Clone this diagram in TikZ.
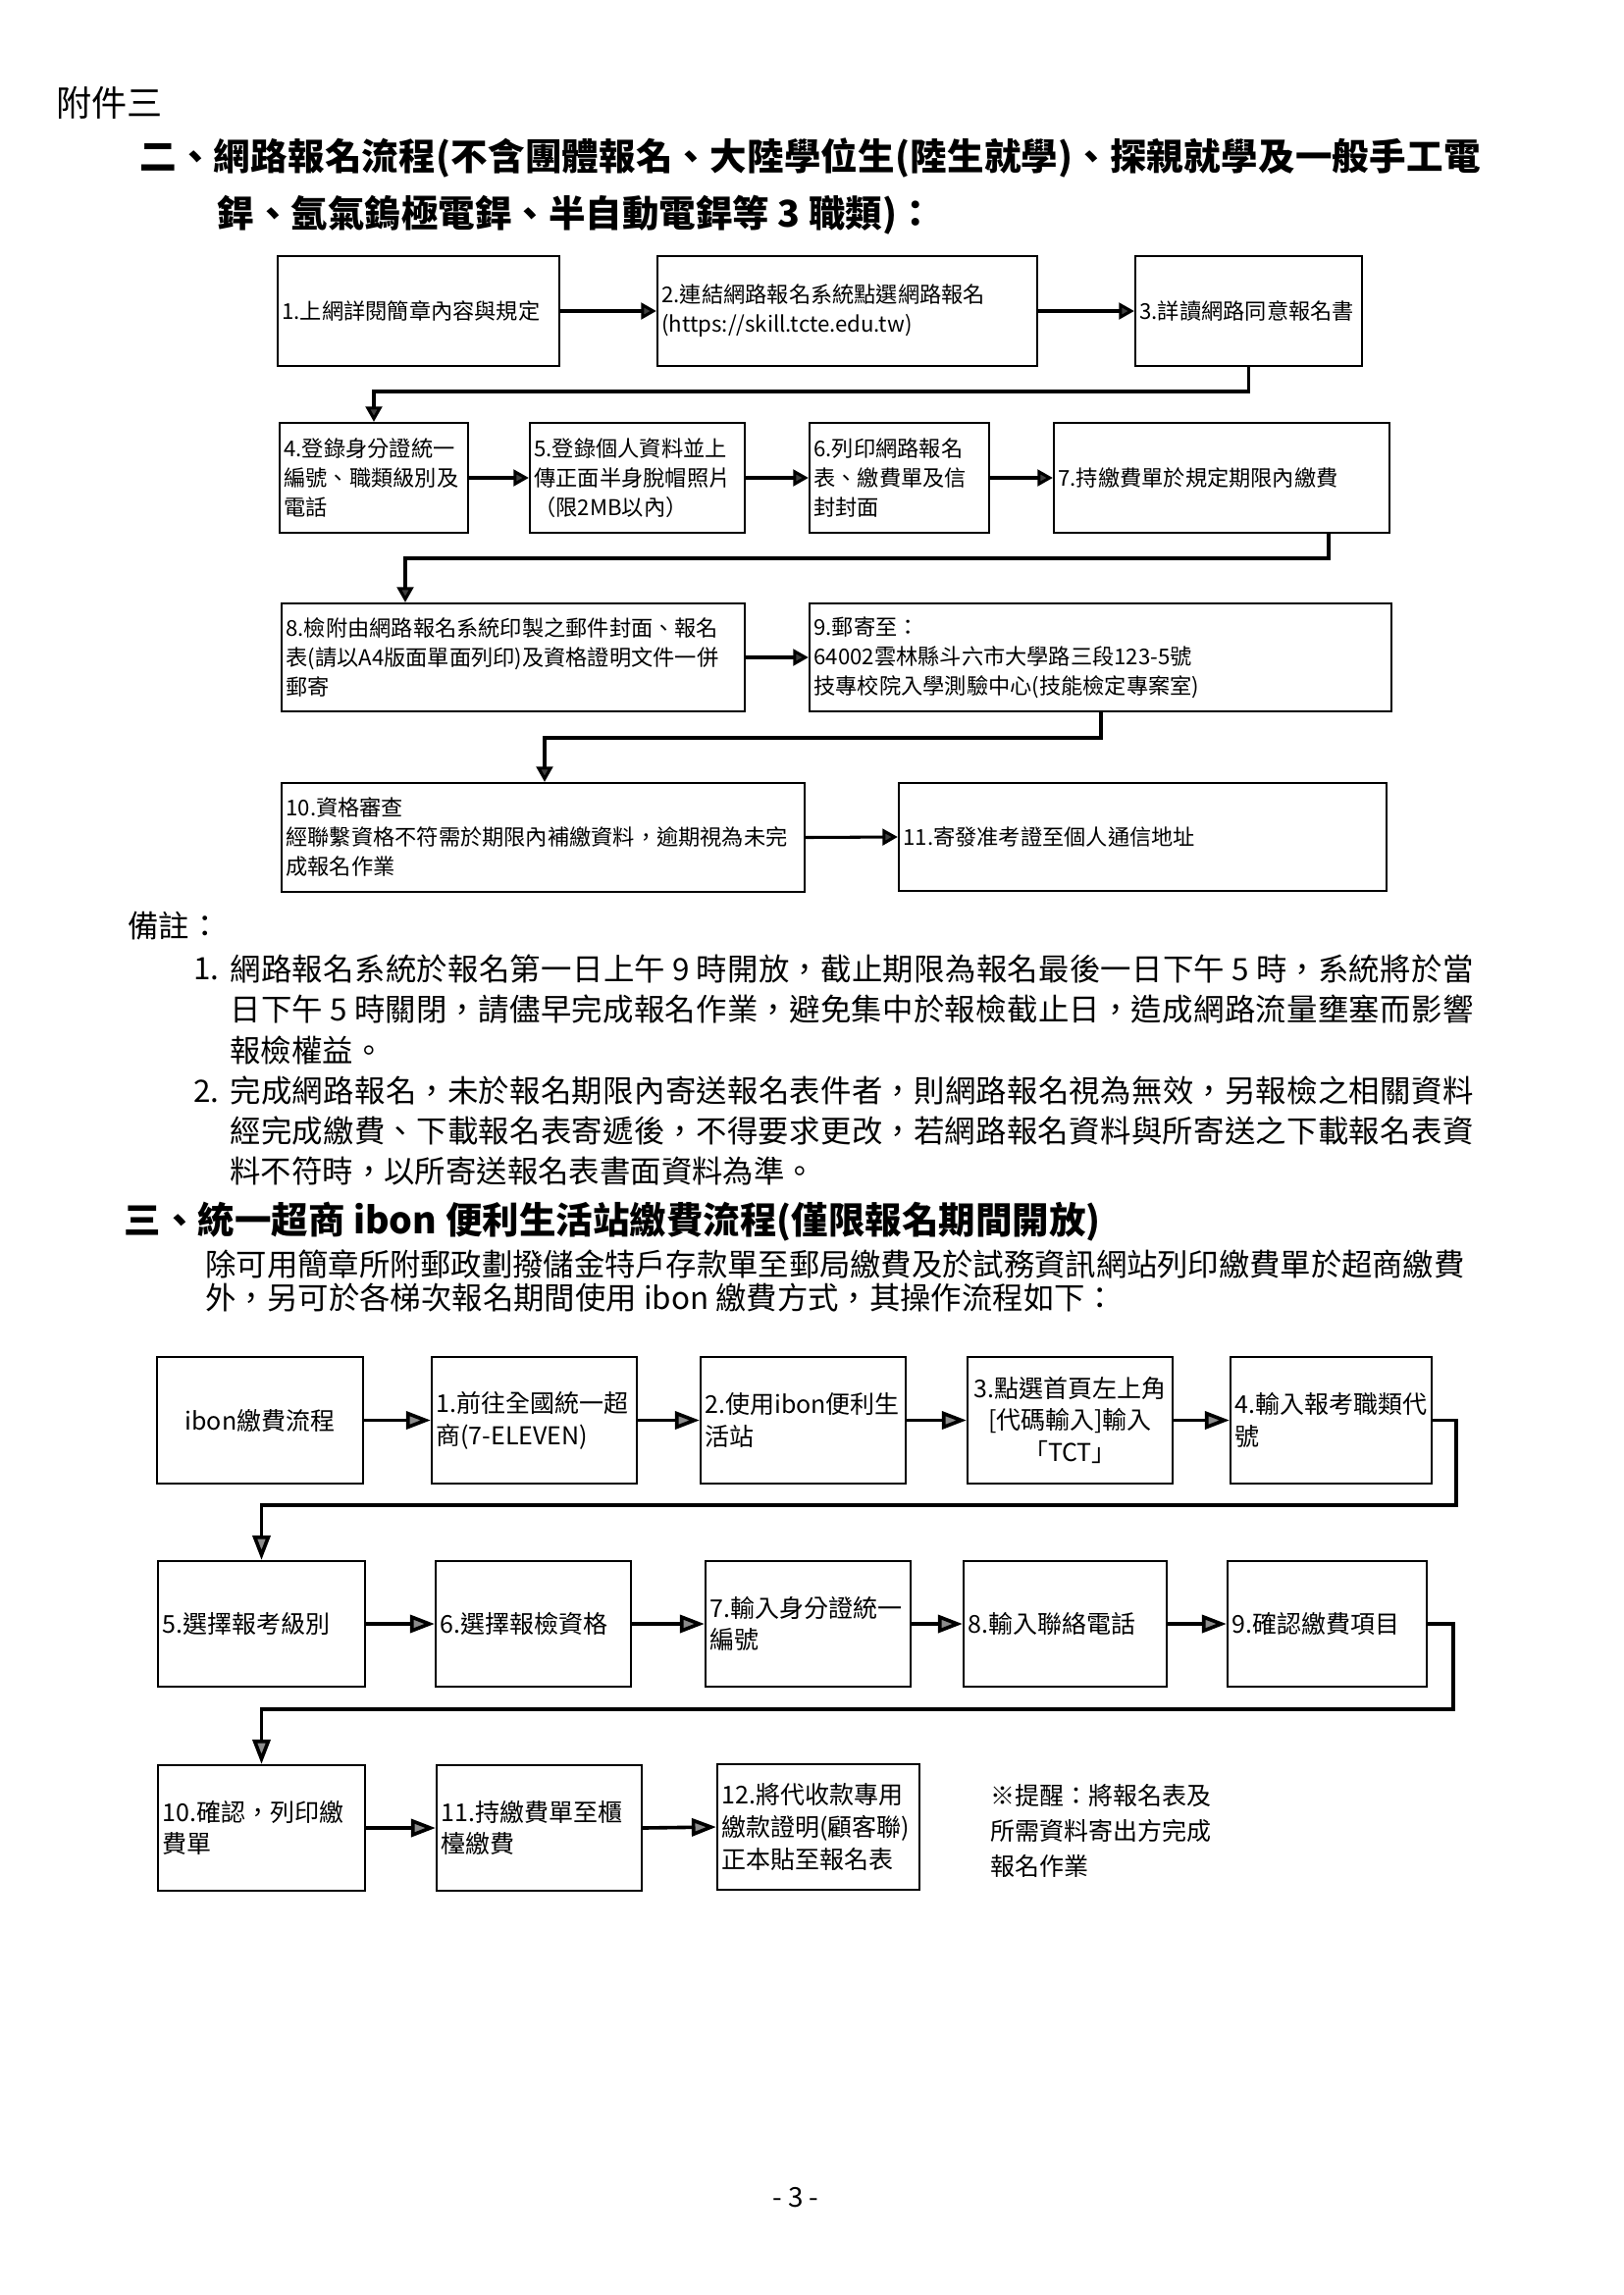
\documentclass[tikz,border=0pt]{standalone}
\usepackage{fontspec}
\setmainfont{Noto Sans CJK TC}
\usetikzlibrary{arrows.meta}
\newcommand\fa{\fontsize{8pt}{10.8pt}\selectfont}
\newcommand\fb{\fontsize{9pt}{11.8pt}\selectfont}
\newcommand\ftip{\fontsize{9pt}{12.8pt}\selectfont}
\newcommand\fbody{\fontsize{11.3pt}{15pt}\selectfont}
\newcommand\fhead{\fontsize{13pt}{15pt}\selectfont}
\newcommand\ftitle{\fontsize{13.5pt}{16pt}\selectfont\bfseries}
\newcommand\jl[2]{\parbox{#1}{\XeTeXlinebreaklocale "zh"\XeTeXlinebreakskip=0pt plus 3pt minus 1pt\relax\parfillskip=0pt\relax\leavevmode#2}}
\newcommand\flowbox[7]{%
 \pgfmathsetlengthmacro\mybw{(#4-#2)*0.36pt}%
 \pgfmathsetlengthmacro\mybh{(#5-#3)*0.36pt}%
 \pgfmathsetlengthmacro\mybt{(#4-#2)*0.36pt-3.2pt}%
 \node[#6, minimum width=\mybw, minimum height=\mybh, text width=\mybt] (#1) at ({(#2+#4)/2},{(#3+#5)/2}) {#7};}
\tikzset{
 boxa/.style={draw, line width=0.8pt, inner xsep=1.6pt, inner ysep=0pt, align=left, font=\fa},
 boxb/.style={boxa, font=\fb},
 boxc/.style={boxb, align=center},
 c2/.style={line width=1.1pt, -{Triangle[length=5.6pt,width=6pt,fill=black!75]}},
 c3/.style={line width=1.3pt, -{Triangle[length=9pt,width=6.5pt,fill=black!45]}},
 txt/.style={anchor=west, inner sep=0pt, font=\fbody},
}
\begin{document}
\begin{tikzpicture}[x=0.36pt,y=-0.36pt]
\fill[white] (0,0) rectangle (1654,2339);
\useasboundingbox (0,0) rectangle (1654,2339);

% headings
\node[anchor=west, inner sep=0pt, font=\fhead] (att) at (57,105) {附件三};
\node[anchor=west, inner sep=0pt, font=\ftitle] (t1) at (142,161) {\jl{491.8pt}{二、網路報名流程(不含團體報名、大陸學位生(陸生就學)、探親就學及一般手工電}};
\node[anchor=west, inner sep=0pt, font=\ftitle] (t2) at (221,219) {銲、氬氣鎢極電銲、半自動電銲等 3 職類)：};

% section 2 flow
\flowbox{b1}{283}{261}{570}{373}{boxa}{1.上網詳閱簡章內容與規定}
\flowbox{b2}{670}{261}{1057}{373}{boxa}{2.連結網路報名系統點選網路報名\\(https://skill.tcte.edu.tw)}
\flowbox{b3}{1157}{261}{1388}{373}{boxa}{3.詳讀網路同意報名書}
\flowbox{b4}{285}{431}{477}{543}{boxa}{4.登錄身分證統一\\編號、職類級別及\\電話}
\flowbox{b5}{540}{431}{759}{543}{boxa}{5.登錄個人資料並上\\傳正面半身脫帽照片\\（限2MB以內）}
\flowbox{b6}{825}{431}{1008}{543}{boxa}{6.列印網路報名\\表、繳費單及信\\封封面}
\flowbox{b7}{1074}{431}{1416}{543}{boxa}{7.持繳費單於規定期限內繳費}
\flowbox{b8}{287}{615}{759}{725}{boxa}{8.檢附由網路報名系統印製之郵件封面、報名\\表(請以A4版面單面列印)及資格證明文件一併\\郵寄}
\flowbox{b9}{825}{615}{1418}{725}{boxa}{9.郵寄至：\\64002雲林縣斗六市大學路三段123-5號\\技專校院入學測驗中心(技能檢定專案室)}
\flowbox{b10}{287}{798}{820}{909}{boxa}{10.資格審查\\經聯繫資格不符需於期限內補繳資料，逾期視為未完\\成報名作業}
\flowbox{b11}{916}{798}{1413}{908}{boxa}{11.寄發准考證至個人通信地址}

\draw[c2] (b1.east) -- (b2.west);
\draw[c2] (b2.east) -- (b3.west);
\coordinate (j1) at (0,399);
\draw[c2] (b3.south) -- (b3.south |- j1) -- (b4.north |- j1) -- (b4.north);
\draw[c2] (b4.east) -- (b5.west);
\draw[c2] (b5.east) -- (b6.west);
\draw[c2] (b6.east) -- (b7.west);
\coordinate (j2a) at (1354,569);
\coordinate (j2b) at (413,569);
\draw[c2] (j2a |- b7.south) -- (j2a) -- (j2b) -- (j2b |- b8.north);
\draw[c2] (b8.east) -- (b9.west);
\coordinate (j3a) at (1122,752);
\coordinate (j3b) at (555,752);
\draw[c2] (j3a |- b9.south) -- (j3a) -- (j3b) -- (j3b |- b10.north);
\draw[c2] (b10.east) -- (b11.west);

% notes
\node[txt] (bz) at (130,944) {備註：};
\node[txt] (n1a) at (197,987) {1.};
\node[txt] (n1l1) at (234,987) {\jl{456.1pt}{網路報名系統於報名第一日上午 9 時開放，截止期限為報名最後一日下午 5 時，系統將於當}};
\node[txt] (n1l2) at (234,1029) {\jl{456.1pt}{日下午 5 時關閉，請儘早完成報名作業，避免集中於報檢截止日，造成網路流量壅塞而影響}};
\node[txt] (n1l3) at (234,1070) {報檢權益。};
\node[txt] (n2a) at (197,1112) {2.};
\node[txt] (n2l1) at (234,1112) {\jl{456.1pt}{完成網路報名，未於報名期限內寄送報名表件者，則網路報名視為無效，另報檢之相關資料}};
\node[txt] (n2l2) at (234,1153) {\jl{456.1pt}{經完成繳費、下載報名表寄遞後，不得要求更改，若網路報名資料與所寄送之下載報名表資}};
\node[txt] (n2l3) at (234,1194) {料不符時，以所寄送報名表書面資料為準。};

% section 3
\node[anchor=west, inner sep=0pt, font=\ftitle] (t3) at (126,1245) {三、統一超商 ibon 便利生活站繳費流程(僅限報名期間開放)};
\node[txt] (p1) at (209,1288) {\jl{461.9pt}{除可用簡章所附郵政劃撥儲金特戶存款單至郵局繳費及於試務資訊網站列印繳費單於超商繳費}};
\node[txt] (p2) at (209,1323) {外，另可於各梯次報名期間使用 ibon 繳費方式，其操作流程如下：};

\flowbox{r0}{160}{1383}{370}{1512}{boxc}{ibon繳費流程}
\flowbox{r1}{440}{1383}{649}{1512}{boxb}{1.前往全國統一超\\商(7-ELEVEN)}
\flowbox{r2}{714}{1383}{923}{1512}{boxb}{2.使用ibon便利生\\活站}
\flowbox{r3}{986}{1383}{1195}{1512}{boxc}{3.點選首頁左上角\\{[}代碼輸入{]}輸入\\「TCT」}
\flowbox{r4}{1254}{1383}{1459}{1512}{boxb}{4.輸入報考職類代\\號}
\flowbox{r5}{161}{1591}{372}{1719}{boxb}{5.選擇報考級別}
\flowbox{r6}{444}{1591}{643}{1719}{boxb}{6.選擇報檢資格}
\flowbox{r7}{719}{1591}{928}{1719}{boxb}{7.輸入身分證統一\\編號}
\flowbox{r8}{982}{1591}{1189}{1719}{boxb}{8.輸入聯絡電話}
\flowbox{r9}{1251}{1591}{1454}{1719}{boxb}{9.確認繳費項目}
\flowbox{r10}{161}{1799}{372}{1927}{boxb}{10.確認，列印繳\\費單}
\flowbox{r11}{445}{1799}{654}{1927}{boxb}{11.持繳費單至櫃\\檯繳費}
\flowbox{r12}{731}{1798}{937}{1926}{boxb}{12.將代收款專用\\繳款證明(顧客聯)\\正本貼至報名表}

\draw[c3] (r0.east) -- (r1.west);
\draw[c3] (r1.east) -- (r2.west);
\draw[c3] (r2.east) -- (r3.west);
\draw[c3] (r3.east) -- (r4.west);
\coordinate (k1) at (1484,1534);
\draw[c3] (r4.east) -| (k1) -| (r5.north);
\draw[c3] (r5.east) -- (r6.west);
\draw[c3] (r6.east) -- (r7.west);
\draw[c3] (r7.east) -- (r8.west);
\draw[c3] (r8.east) -- (r9.west);
\coordinate (k2) at (1481,1742);
\draw[c3] (r9.east) -| (k2) -| (r10.north);
\draw[c3] (r10.east) -- (r11.west);
\draw[c3] (r11.east) -- (r12.west);

\node[anchor=west, inner sep=0pt, align=left, font=\ftip] (tip) at (1009,1866) {※提醒：將報名表及\\所需資料寄出方完成\\報名作業};

\node[font=\fontsize{10pt}{12pt}\selectfont] (pg) at (811,2240) {- 3 -};
\end{tikzpicture}
\end{document}
